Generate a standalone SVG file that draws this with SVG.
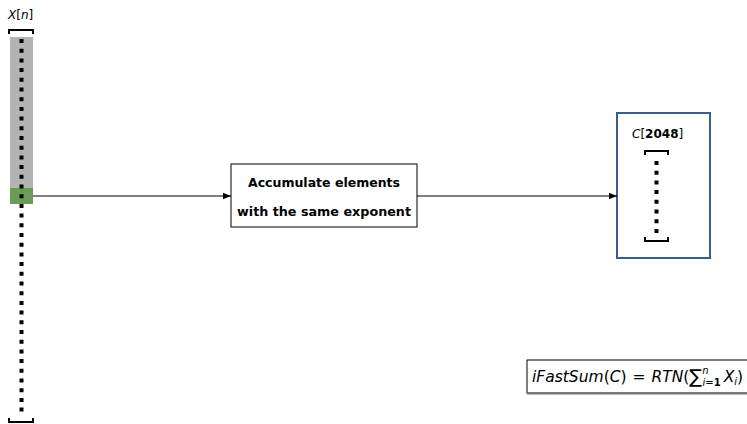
<svg xmlns="http://www.w3.org/2000/svg" width="747" height="424" viewBox="0 0 747 424">
  <style>
    .lbl { font-family: "DejaVu Sans", "Liberation Sans", sans-serif; fill: #000; }
    .it { font-style: italic; }
    .bold { font-weight: bold; }
    .bracket { fill: none; stroke: #000; stroke-width: 2; }
    .dots { stroke: #000; stroke-width: 4; stroke-dasharray: 4 5.7; }
    .conn { stroke: #000; stroke-width: 1; fill: none; }
  </style>
  <defs>
    <marker id="arrow" viewBox="0 0 10 10" refX="10" refY="5" markerWidth="9" markerHeight="8" markerUnits="userSpaceOnUse" orient="auto">
      <path d="M0,1 L10,5 L0,9 z" fill="#000"/>
    </marker>
  </defs>
  <rect width="747" height="424" fill="#fff"/>

  <!-- input array X[n] -->
  <g id="array-x">
    <text class="lbl" x="8" y="19" font-size="12"><tspan class="it">X</tspan>[<tspan class="it">n</tspan>]</text>
    <rect x="10" y="37" width="23" height="151" fill="#b3b3b3"/>
    <rect x="10" y="188" width="23" height="16" fill="#6a9c55"/>
    <path class="bracket" d="M9,34 V30 H33 V34"/>
    <line class="dots" x1="21.5" y1="39" x2="21.5" y2="416"/>
    <path class="bracket" d="M9,418 V422 H33 V418"/>
  </g>

  <!-- accumulation step -->
  <g id="accumulate">
    <rect x="231" y="164" width="186" height="63" fill="#fff" stroke="#000" stroke-width="1"/>
    <text class="lbl bold" x="324" y="187" font-size="12" text-anchor="middle" textLength="152" lengthAdjust="spacingAndGlyphs">Accumulate elements</text>
    <text class="lbl bold" x="324" y="216" font-size="12" text-anchor="middle" textLength="174" lengthAdjust="spacingAndGlyphs">with the same exponent</text>
  </g>

  <!-- accumulator array C[2048] -->
  <g id="array-c">
    <rect x="617" y="113" width="93" height="145" fill="#fff" stroke="#3b5e89" stroke-width="2"/>
    <text class="lbl" x="632" y="138" font-size="12"><tspan class="it">C</tspan>[<tspan class="bold">2048</tspan>]</text>
    <path class="bracket" d="M645,155 V151 H668 V155"/>
    <line class="dots" x1="656.5" y1="161" x2="656.5" y2="236"/>
    <path class="bracket" d="M645,237 V241 H668 V237"/>
  </g>

  <!-- result formula -->
  <g id="formula">
    <rect x="527" y="360" width="222" height="33" fill="#fff" stroke="#000" stroke-width="1"/>
    <line x1="527" y1="393.5" x2="747" y2="393.5" stroke="#777" stroke-width="2"/>
    <text class="lbl" x="532" y="382" font-size="15.5" word-spacing="1"><tspan class="it">iFastSum</tspan>(<tspan class="it">C</tspan>) = <tspan class="it">RTN</tspan>(<tspan font-size="19" dy="1">∑</tspan><tspan class="it" font-size="10" dy="-9">n</tspan><tspan font-size="10" dx="-6" dy="12"><tspan class="it">i</tspan>=<tspan class="bold">1</tspan></tspan><tspan class="it" dx="3" dy="-4">X</tspan><tspan class="it" font-size="10" dy="3">i</tspan><tspan dy="-3">)</tspan></text>
  </g>

  <!-- connectors -->
  <g id="connectors">
    <line class="conn" x1="33" y1="196" x2="231" y2="196" marker-end="url(#arrow)"/>
    <line class="conn" x1="417" y1="196" x2="617" y2="196" marker-end="url(#arrow)"/>
  </g>
</svg>
